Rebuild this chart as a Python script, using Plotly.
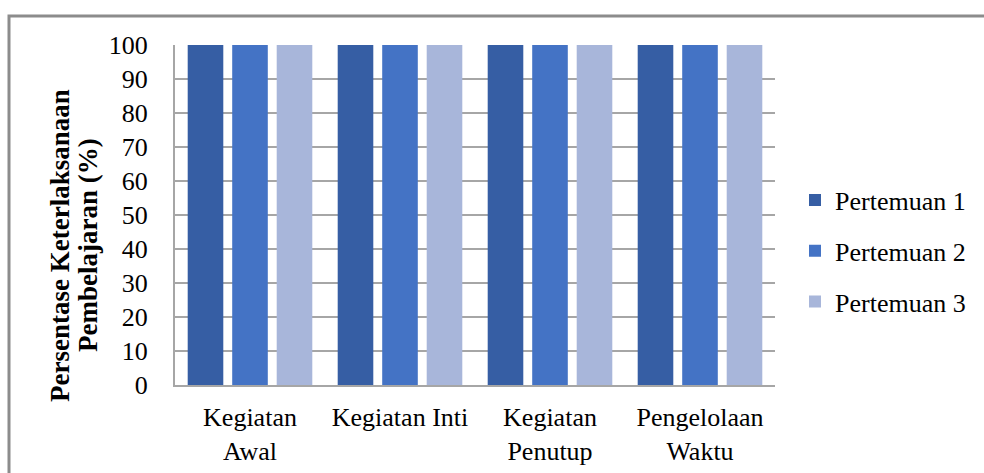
import plotly.graph_objects as go

# Chart data
categories = ["Kegiatan<br>Awal", "Kegiatan Inti", "Kegiatan<br>Penutup", "Pengelolaan<br>Waktu"]
series_names = ["Pertemuan 1", "Pertemuan 2", "Pertemuan 3"]
pertemuan_1 = [100, 100, 100, 100]
pertemuan_2 = [100, 100, 100, 100]
pertemuan_3 = [100, 100, 100, 100]
y_ticks = [0, 10, 20, 30, 40, 50, 60, 70, 80, 90, 100]
y_title_lines = ["Persentase Keterlaksanaan", "Pembelajaran (%)"]

colors = ["#365EA4", "#4473C5", "#A8B6DA"]
serif = "Liberation Serif, Times New Roman, serif"
grid = "#A6A6A6"

fig = go.Figure()
for name, vals, col in zip(series_names, [pertemuan_1, pertemuan_2, pertemuan_3], colors):
    fig.add_trace(go.Bar(
        name=name, x=categories, y=vals,
        marker=dict(color=col, line=dict(width=0)),
        legendgroup=name,
    ))

W, H = 984, 473
L, R, T, B = 175, 209, 45, 88
pw, ph = W - L - R, H - T - B

def px_x(x):
    return (x - L) / pw

def px_y(y):
    return (H - B - y) / ph

fig.update_layout(
    width=W, height=H,
    margin=dict(l=L, r=R, t=T, b=B, autoexpand=False),
    paper_bgcolor="white", plot_bgcolor="white",
    barmode="group", bargap=0.11, bargroupgap=0.2,
    font=dict(family=serif, size=26, color="black"),
    showlegend=True,
    legend=dict(
        x=px_x(795), xanchor="left", y=px_y(251), yanchor="middle",
        font=dict(family=serif, size=26, color="black"),
        tracegroupgap=14, bgcolor="rgba(0,0,0,0)",
    ),
    xaxis=dict(
        showgrid=False, showline=True, linecolor=grid, linewidth=2,
        ticks="", tickfont=dict(family=serif, size=26), ticklabelstandoff=8,
    ),
    yaxis=dict(
        range=[0, 100], tickvals=y_ticks, showgrid=True, gridcolor=grid, gridwidth=1.5,
        showline=True, linecolor=grid, linewidth=2, ticks="",
        tickfont=dict(family=serif, size=26), ticklabelstandoff=20,
        zeroline=False,
    ),
)

# Two-line rotated y-axis title
for text, xc in zip(y_title_lines, [60, 88]):
    fig.add_annotation(
        text=f"<b>{text}</b>", textangle=-90, showarrow=False,
        xref="paper", yref="paper", x=px_x(xc), y=px_y(245),
        xanchor="center", yanchor="middle",
        font=dict(family=serif, size=27, color="black"),
    )

# Outer chart frame
fig.add_shape(type="rect", xref="paper", yref="paper",
              x0=px_x(9), x1=px_x(1000), y0=px_y(490), y1=px_y(16),
              line=dict(color="#8C8C8C", width=3), fillcolor="rgba(0,0,0,0)", layer="below")

fig.write_html("out.html")
